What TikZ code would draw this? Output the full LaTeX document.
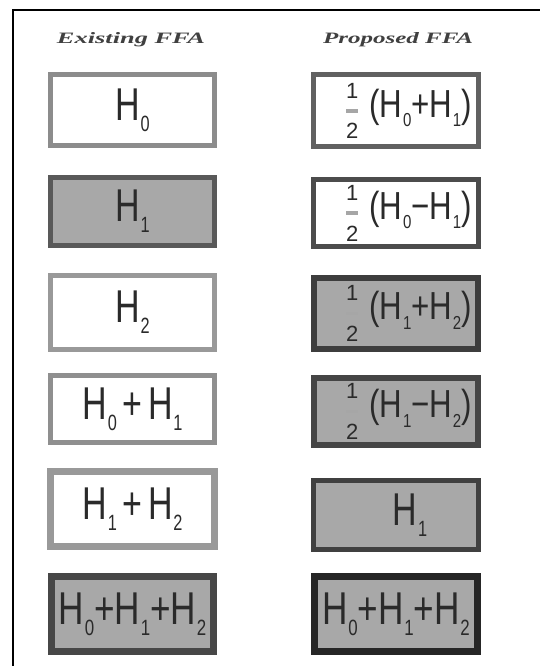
\documentclass[tikz,border=0pt]{standalone}
\usepackage{fontspec}
\setmainfont{Liberation Sans}
\newfontfamily\hdrfont{Liberation Serif}
\usepackage{graphicx}
\definecolor{boxgray}{HTML}{A8A8A8}
\definecolor{inkgray}{HTML}{2A2A2A}
\newcommand{\Hs}[1]{H\kern0.02em\raisebox{-0.24em}{\scalebox{0.48}{#1}}}
\newcommand{\tallx}[2]{\scalebox{#1}[1.15]{#2}}
\newcommand{\halfsym}{$\vcenter{\offinterlineskip\halign{\hfil##\hfil\cr\fontsize{22}{22}\selectfont 1\cr\noalign{\kern11pt}{\color{black!35}\rule{12pt}{3.5pt}}\cr\noalign{\kern11pt}\fontsize{22}{22}\selectfont 2\cr}}$}
\tikzset{
  ffabox/.style={draw, line width=5pt, inner sep=0pt, outer sep=0pt, anchor=center},
  whitebox/.style={ffabox, fill=white},
  graybox/.style={ffabox, fill=boxgray},
  leftcol/.style={minimum width=164pt},
  rightcol/.style={minimum width=165pt},
  bigtext/.style={font=\fontsize{40}{40}\selectfont, text=inkgray, inner sep=0pt},
  fractext/.style={font=\fontsize{34}{34}\selectfont, text=inkgray, inner sep=0pt, anchor=west},
  header/.style={text=black!75, inner sep=0pt},
}
\begin{document}
\begin{tikzpicture}[x=1pt,y=-1pt]
\useasboundingbox[fill=white] (0,0) rectangle (540,666);
% frame
\draw[line width=2pt] (13,666) -- (13,10) -- (540,10);
% headers
\node[header] (hexist) at (131,40) {\resizebox{148pt}{11pt}{\hdrfont\bfseries\itshape Existing FFA}};
\node[header] (hprop) at (398,40) {\resizebox{150pt}{11pt}{\hdrfont\bfseries\itshape Proposed FFA}};
% left column
\node[whitebox, leftcol, draw=black!45, line width=4.5pt, minimum height=71pt] (l1) at (132.5,110) {};
\node[graybox, leftcol, draw=black!65, minimum height=68pt] (l2) at (132.5,211.5) {};
\node[whitebox, leftcol, draw=black!40, line width=4.5pt, minimum height=74pt] (l3) at (132.5,312.5) {};
\node[whitebox, leftcol, draw=black!44, line width=4.5pt, minimum height=67pt] (l4) at (132.5,409) {};
\node[whitebox, leftcol, draw=black!40, line width=7pt, minimum height=75pt] (l5) at (132.5,509) {};
\node[graybox, leftcol, draw=black!72, line width=7pt, minimum height=75pt, minimum width=162pt] (l6) at (132.5,614) {};
\node[bigtext] (t1) at (l1) {\tallx{0.85}{\Hs{0}}};
\node[bigtext] (t2) at (l2) {\tallx{0.85}{\Hs{1}}};
\node[bigtext] (t3) at (l3) {\tallx{0.85}{\Hs{2}}};
\node[bigtext] (t4) at (l4) {\tallx{0.85}{\Hs{0}\,+\,\Hs{1}}};
\node[bigtext] (t5) at (l5) {\tallx{0.85}{\Hs{1}\,+\,\Hs{2}}};
\node[bigtext] (t6) at (l6) {\tallx{0.88}{\Hs{0}+\Hs{1}+\Hs{2}}};
% right column
\node[whitebox, rightcol, draw=black!62, minimum height=72pt] (r1) at (396,110.5) {};
\node[whitebox, rightcol, draw=black!70, minimum height=67pt] (r2) at (396,213) {};
\node[graybox, rightcol, draw=black!76, line width=6pt, minimum height=71pt, minimum width=164pt] (r3) at (396,313.5) {};
\node[graybox, rightcol, draw=black!73, line width=6pt, minimum height=67pt, minimum width=164pt] (r4) at (396,411.5) {};
\node[graybox, rightcol, draw=black!75, minimum height=69pt] (r5) at (396,515) {};
\node[graybox, rightcol, draw=black!85, line width=7pt, minimum height=75pt, minimum width=163pt] (r6) at (396,614) {};
\node[fractext] (s1) at (346,111) {\halfsym\hspace{11pt}\tallx{0.92}{(\Hs{0}+\Hs{1})}};
\node[fractext] (s2) at (346,213) {\halfsym\hspace{11pt}\tallx{0.92}{(\Hs{0}−\Hs{1})}};
\node[fractext] (s3) at (346,313.5) {\halfsym\hspace{11pt}\tallx{0.92}{(\Hs{1}+\Hs{2})}};
\node[fractext] (s4) at (346,411.5) {\halfsym\hspace{11pt}\tallx{0.92}{(\Hs{1}−\Hs{2})}};
\node[bigtext] (s5) at (410,515) {\tallx{0.85}{\Hs{1}}};
\node[bigtext] (s6) at (r6) {\tallx{0.88}{\Hs{0}+\Hs{1}+\Hs{2}}};
\end{tikzpicture}
\end{document}
